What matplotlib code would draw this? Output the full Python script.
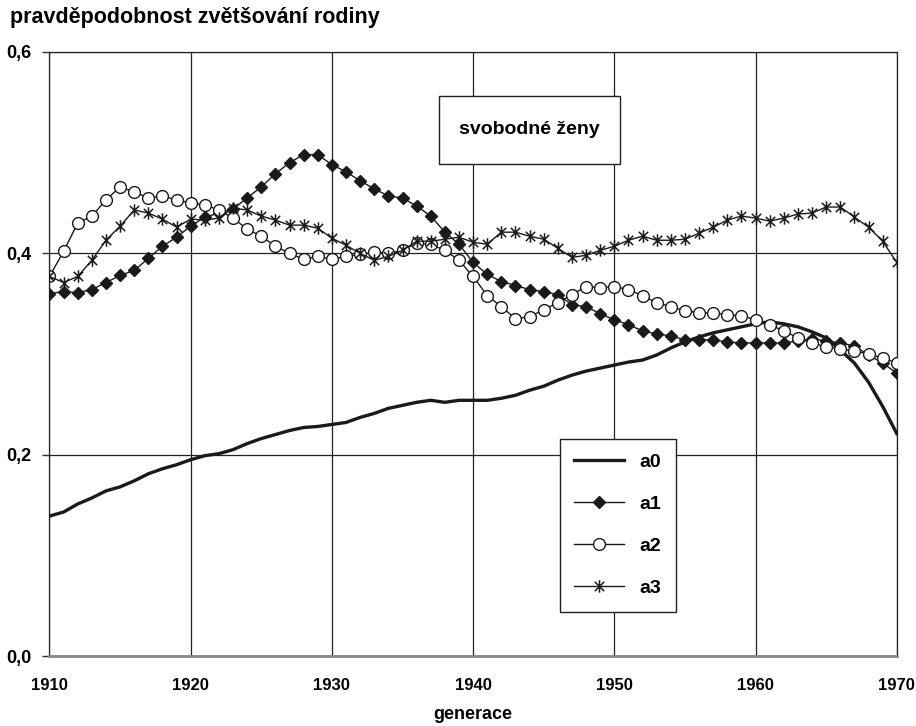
import matplotlib
matplotlib.use("Agg")
import matplotlib.pyplot as plt
from matplotlib.path import Path
from matplotlib.patches import Rectangle

# data
years = list(range(1910, 1971))
a0 = [0.139, 0.143, 0.151, 0.157, 0.164, 0.168, 0.174, 0.181, 0.186, 0.190,
      0.195, 0.199, 0.201, 0.205, 0.211, 0.216, 0.220, 0.224, 0.227, 0.228,
      0.230, 0.232, 0.237, 0.241, 0.246, 0.249, 0.252, 0.254, 0.252, 0.254,
      0.254, 0.254, 0.256, 0.259, 0.264, 0.268, 0.274, 0.279, 0.283, 0.286,
      0.289, 0.292, 0.294, 0.299, 0.306, 0.312, 0.317, 0.321, 0.324, 0.327,
      0.330, 0.332, 0.330, 0.327, 0.322, 0.316, 0.304, 0.291, 0.272, 0.248,
      0.221]
a1 = [0.360, 0.362, 0.361, 0.364, 0.371, 0.378, 0.383, 0.395, 0.407, 0.416,
      0.427, 0.436, 0.440, 0.444, 0.455, 0.466, 0.479, 0.490, 0.498, 0.498,
      0.488, 0.481, 0.472, 0.464, 0.457, 0.455, 0.447, 0.437, 0.421, 0.409,
      0.391, 0.379, 0.372, 0.368, 0.364, 0.362, 0.359, 0.349, 0.347, 0.340,
      0.334, 0.329, 0.323, 0.320, 0.318, 0.314, 0.314, 0.314, 0.312, 0.311,
      0.311, 0.311, 0.311, 0.313, 0.315, 0.313, 0.311, 0.308, 0.299, 0.291,
      0.281]
a2 = [0.377, 0.402, 0.430, 0.437, 0.453, 0.466, 0.461, 0.455, 0.457, 0.453,
      0.450, 0.448, 0.443, 0.435, 0.424, 0.417, 0.407, 0.400, 0.394, 0.397,
      0.394, 0.397, 0.399, 0.401, 0.400, 0.403, 0.410, 0.409, 0.403, 0.393,
      0.377, 0.358, 0.347, 0.335, 0.337, 0.344, 0.351, 0.359, 0.367, 0.366,
      0.367, 0.364, 0.358, 0.351, 0.347, 0.343, 0.341, 0.341, 0.339, 0.338,
      0.334, 0.329, 0.323, 0.316, 0.311, 0.307, 0.305, 0.303, 0.300, 0.296,
      0.291]
a3 = [0.377, 0.371, 0.377, 0.393, 0.413, 0.427, 0.443, 0.440, 0.434, 0.426,
      0.434, 0.433, 0.435, 0.445, 0.443, 0.437, 0.433, 0.428, 0.428, 0.425,
      0.415, 0.408, 0.400, 0.393, 0.397, 0.403, 0.412, 0.412, 0.414, 0.416,
      0.411, 0.409, 0.421, 0.421, 0.417, 0.414, 0.405, 0.396, 0.398, 0.403,
      0.407, 0.413, 0.417, 0.413, 0.413, 0.414, 0.420, 0.426, 0.433, 0.437,
      0.435, 0.432, 0.435, 0.439, 0.440, 0.446, 0.446, 0.436, 0.426, 0.412,
      0.391]

x_ticks = [1910, 1920, 1930, 1940, 1950, 1960, 1970]
y_ticks = [0.0, 0.2, 0.4, 0.6]
y_tick_labels = ["0,0", "0,2", "0,4", "0,6"]

narrow = ["Liberation Sans Narrow", "Liberation Sans", "DejaVu Sans"]
bold = ["Liberation Sans", "DejaVu Sans"]

# excel-like star: vertical bar plus an X
star = Path([(0, -1), (0, 1), (-0.75, -0.75), (0.75, 0.75), (-0.75, 0.75), (0.75, -0.75)],
            [Path.MOVETO, Path.LINETO, Path.MOVETO, Path.LINETO, Path.MOVETO, Path.LINETO])

fig = plt.figure(figsize=(9.16, 7.26), dpi=100)
ax = fig.add_axes([0.054, 0.0964, 0.925, 0.832])

ax.plot(years, a0, color="#1a1a1a", lw=2.4, label="a0", zorder=3)
ax.plot(years, a1, color="#1a1a1a", lw=1.0, marker="D", ms=6.5, mfc="#1a1a1a",
        mec="#1a1a1a", label="a1", zorder=4)
ax.plot(years, a2, color="#1a1a1a", lw=1.0, marker="o", ms=8.5, mfc="white",
        mec="#1a1a1a", mew=1.0, label="a2", zorder=4)
ax.plot(years, a3, color="#1a1a1a", lw=1.0, marker=star, ms=9, mec="#1a1a1a",
        mew=1.1, label="a3", zorder=4)

ax.set_xlim(1910, 1970)
ax.set_ylim(0, 0.6)
ax.set_xticks(x_ticks)
ax.set_xticklabels([str(y) for y in x_ticks], family=narrow, fontweight="bold", fontsize=12)
ax.set_yticks(y_ticks)
ax.set_yticklabels(y_tick_labels, family=narrow, fontweight="bold", fontsize=13)
ax.tick_params(axis="x", length=0, pad=16)
ax.tick_params(axis="y", length=5, width=1, pad=8, color="#333333")
ax.grid(True, color="#222222", lw=0.9)
ax.set_axisbelow(True)

for s in ["left", "top", "right"]:
    ax.spines[s].set_color("#222222")
    ax.spines[s].set_linewidth(0.9)
ax.spines["bottom"].set_color("#888888")
ax.spines["bottom"].set_linewidth(2.0)

ax.set_xlabel("generace", family=bold, fontweight="bold", fontsize=13, labelpad=9)
fig.text(0.011, 0.991, "pravděpodobnost zvětšování rodiny", family=bold,
         fontweight="bold", fontsize=15.5, ha="left", va="top")

# boxed panel title
ax.add_patch(Rectangle((0.4596, 0.8146), 0.2136, 0.1126, transform=ax.transAxes,
                       facecolor="white", edgecolor="#222222", lw=1.0, zorder=5))
ax.text(0.566, 0.871, "svobodné ženy", transform=ax.transAxes, family=bold,
        fontweight="bold", fontsize=14, ha="center", va="center", zorder=6)

leg = ax.legend(loc="upper left", bbox_to_anchor=(0.6024, 0.3593), borderaxespad=0,
                fancybox=False, edgecolor="#222222", framealpha=1,
                prop={"family": bold, "weight": "bold", "size": 14},
                handlelength=2.55, handletextpad=0.8, labelspacing=1.25, borderpad=0.75)
leg.get_frame().set_linewidth(1.0)
leg.set_zorder(6)

fig.savefig("out.png", dpi=100)
